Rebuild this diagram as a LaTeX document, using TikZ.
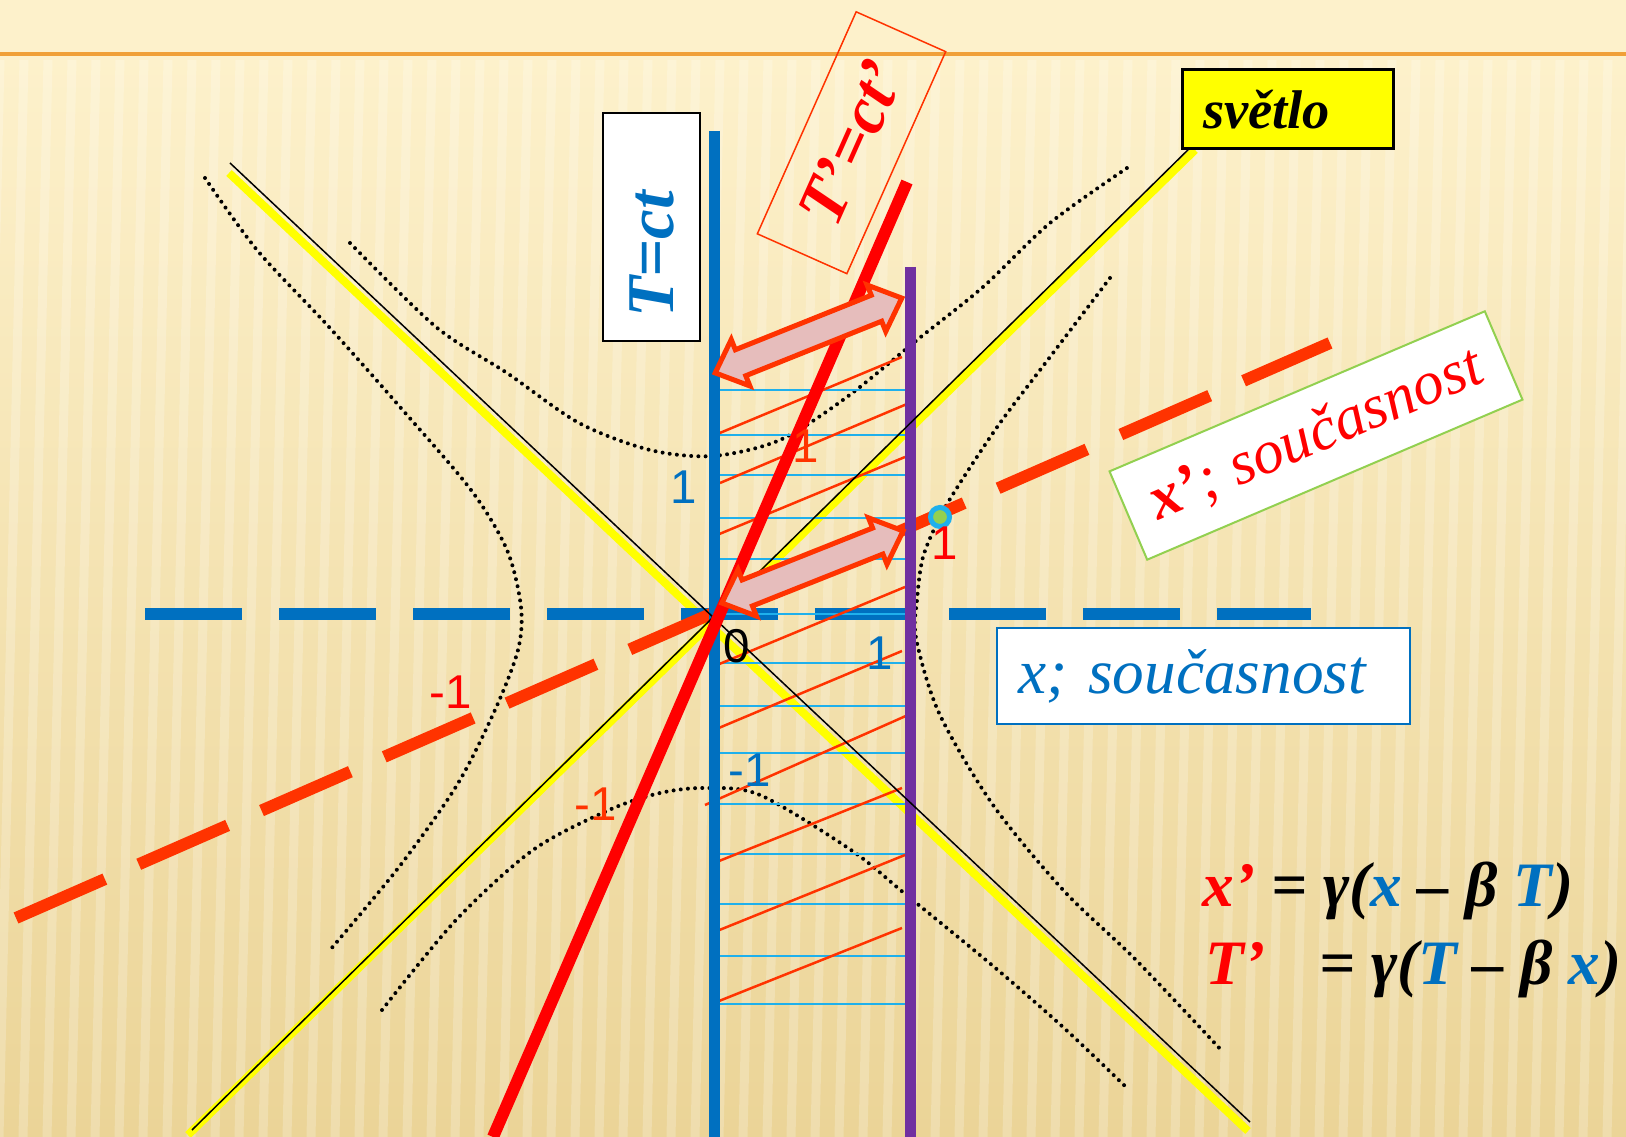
\documentclass[tikz,border=0pt]{standalone}
\usepackage{fontspec}
\setmainfont{Liberation Serif}
\newfontfamily\numfont{Liberation Sans}
\usetikzlibrary{shapes.arrows}
\definecolor{axisblue}{HTML}{0070C0}
\definecolor{gridblue}{HTML}{1FB0EC}
\definecolor{worldpurple}{HTML}{7030A0}
\definecolor{primered}{HTML}{FF0000}
\definecolor{hatchred}{HTML}{FF3300}
\definecolor{conelight}{HTML}{FFFF00}
\definecolor{dotgreen}{HTML}{92D050}
\definecolor{arrowpink}{HTML}{E6BDBC}
\definecolor{paper}{HTML}{FDF1CB}
\definecolor{paperdark}{HTML}{EBD497}
\definecolor{rulecol}{HTML}{F0A038}

\begin{document}
\begin{tikzpicture}[
    x=0.1mm, y=-0.1mm,
    axisdash/.style={dash pattern=on 9.7mm off 3.7mm},
    hyperdots/.style={black, line width=0.4mm, dash pattern=on 0pt off 0.72mm, line cap=round},
    coneline/.style={conelight, line width=0.8mm},
    coneedge/.style={black, line width=0.15mm},
    gridline/.style={gridblue, line width=0.25mm},
    hatchline/.style={hatchred, line width=0.25mm},
    ticklabel/.style={font=\numfont\fontsize{13.5}{16}\selectfont, inner sep=0pt},
    dblarrow/.style={double arrow, draw=hatchred, fill=arrowpink, line width=0.5mm,
                     inner xsep=0pt, inner ysep=1.15mm, double arrow head extend=1.1mm,
                     double arrow tip angle=85},
    axislabel/.style={font=\bfseries\itshape\fontsize{19}{22}\selectfont},
]
\useasboundingbox (0,0) rectangle (1626,1137);
\fill[paper] (0,0) rectangle (1626,1137);
\shade[top color=paper, bottom color=paperdark] (0,56) rectangle (1626,1137);
\foreach \s in {0,24,...,1680}
  \draw[white, opacity=0.22, line width=0.9mm] (\s,60) -- (\s-25,1137);
\draw[rulecol, line width=0.4mm] (0,54) -- (1626,54);

\coordinate (O) at (713,614);
\coordinate (Ttop) at (714,131);
\coordinate (Tbot) at (714,1137);
\coordinate (Wtop) at (910,267);
\coordinate (Wbot) at (910,1137);
\coordinate (Xleft) at (145,614);
\coordinate (Xright) at (1311,614);
\coordinate (XPleft) at (16,918);
\coordinate (XPright) at (1330,343);
\coordinate (TPtop) at (907,182);
\coordinate (TPbot) at (493,1137);

\draw[hyperdots] plot[smooth] coordinates {(350,243) (436,327) (507,373) (579,423) (650,450)
  (713,456) (780,440) (847,397) (917,340) (983,287) (1050,223) (1127,168)};
\draw[hyperdots] plot[smooth] coordinates {(205,178) (257,250) (329,327) (400,407) (471,490)
  (507,550) (521,607) (518,650) (495,710) (457,785) (399,867) (330,950)};
\draw[hyperdots] plot[smooth] coordinates {(1110,278) (1050,357) (1000,423) (960,483) (940,517)
  (923,557) (917,600) (916,638) (939,713) (993,805) (1064,891) (1136,960) (1223,1052)};
\draw[hyperdots] plot[smooth] coordinates {(382,1010) (456,920) (533,850) (609,810) (660,793)
  (705,788) (760,795) (851,850) (904,893) (993,966) (1064,1028) (1127,1088)};

\draw[coneline] (229,173) -- (1248,1131);
\draw[coneline] (188,1135) -- (1195,150);

\draw[axisblue, line width=1.2mm, axisdash] (Xleft) -- (Xright);

\foreach \y in {390,435,475,518,559,614,663,706,753,804,854,904,956,1004}
  \draw[gridline] (709,\y) -- (910,\y);
\foreach \xa/\ya/\xb/\yb in {715/435/902/357, 720/483/907/404, 717/535/905/457,
    717/665/905/587, 714/730/902/651, 705/805/908/715, 714/863/902/788,
    717/931/905/855, 714/1003/902/928}
  \draw[hatchline] (\xa,\ya) -- (\xb,\yb);

\draw[hatchred, line width=1.2mm, axisdash] (XPleft) -- (XPright);
\draw[axisblue, line width=1.1mm] (Ttop) -- (Tbot);
\draw[worldpurple, line width=1.1mm] (Wtop) -- (Wbot);
\draw[coneedge] (230,163) -- (1250,1122);
\draw[coneedge] (192,1130) -- (1197,141);
\draw[primered, line width=1.2mm] (TPtop) -- (TPbot);

\coordinate (a1) at (715,373);
\coordinate (a2) at (902,298);
\coordinate (b1) at (722,603);
\coordinate (b2) at (903,531);
\path (a1) -- node[dblarrow, sloped, minimum height=20.1mm] (arrowup) {} (a2);
\path (b1) -- node[dblarrow, sloped, minimum height=19.5mm] (arrowlow) {} (b2);

\node[circle, draw=gridblue, fill=dotgreen, line width=0.5mm, minimum size=1.9mm,
      inner sep=0pt] (event) at (940,517) {};

\node[ticklabel, text=axisblue] (tone) at (684,487) {1};
\node[ticklabel, text=hatchred] (tpone) at (806,446) {1};
\node[ticklabel, text=primered] (xpone) at (945,543) {1};
\node[ticklabel] (zero) at (737,646) {0};
\node[ticklabel, text=axisblue] (xone) at (880,653) {1};
\node[ticklabel, text=primered] (xpmone) at (451,692) {-1};
\node[ticklabel, text=axisblue] (tmone) at (750,770) {-1};
\node[ticklabel, text=hatchred] (tpmone) at (596,804) {-1};

\node[axislabel, draw=black, fill=white, line width=0.2mm, rotate=90, minimum height=9.7mm,
      text width=18.2mm, inner xsep=2.3mm, align=left, text=axisblue] (tbox) at (651.5,227) {T=ct};
\node[axislabel, draw=hatchred, line width=0.15mm, rotate=66, minimum width=24.3mm,
      minimum height=9.8mm, text=primered] (tpbox) at (851.5,142.75) {T’=ct’};
\node[draw=black, fill=conelight, line width=0.3mm, minimum height=7.9mm, text width=16.9mm,
      inner xsep=2.1mm, align=left, font=\bfseries\itshape\fontsize{15.5}{18}\selectfont] (light) at (1287.5,109.5) {světlo};
\node[draw=dotgreen, fill=white, line width=0.2mm, rotate=23.1, minimum width=40.8mm,
      minimum height=9.6mm, inner xsep=1mm, text=primered, font=\itshape\fontsize{17.5}{21}\selectfont] (xpbox) at (1316,435.5) {\textbf{x’}; současnost};
\node[draw=axisblue, fill=white, line width=0.2mm, minimum height=9.6mm, text width=37.1mm,
      inner xsep=2.1mm, align=left, text=axisblue, font=\itshape\fontsize{18}{21}\selectfont] (xbox) at (1203.5,676) {x; současnost};

\node[anchor=base west, inner sep=0pt, font=\bfseries\itshape\fontsize{18}{21}\selectfont] (eqx) at (1202,907)
  {\textcolor{primered}{x’} = γ(\textcolor{axisblue}{x} – β \textcolor{axisblue}{T})};
\node[anchor=base west, inner sep=0pt, font=\bfseries\itshape\fontsize{18}{21}\selectfont] (eqt) at (1205,985)
  {\textcolor{primered}{T’}\hspace{0.6em} = γ(\textcolor{axisblue}{T} – β \textcolor{axisblue}{x})};
\end{tikzpicture}
\end{document}
